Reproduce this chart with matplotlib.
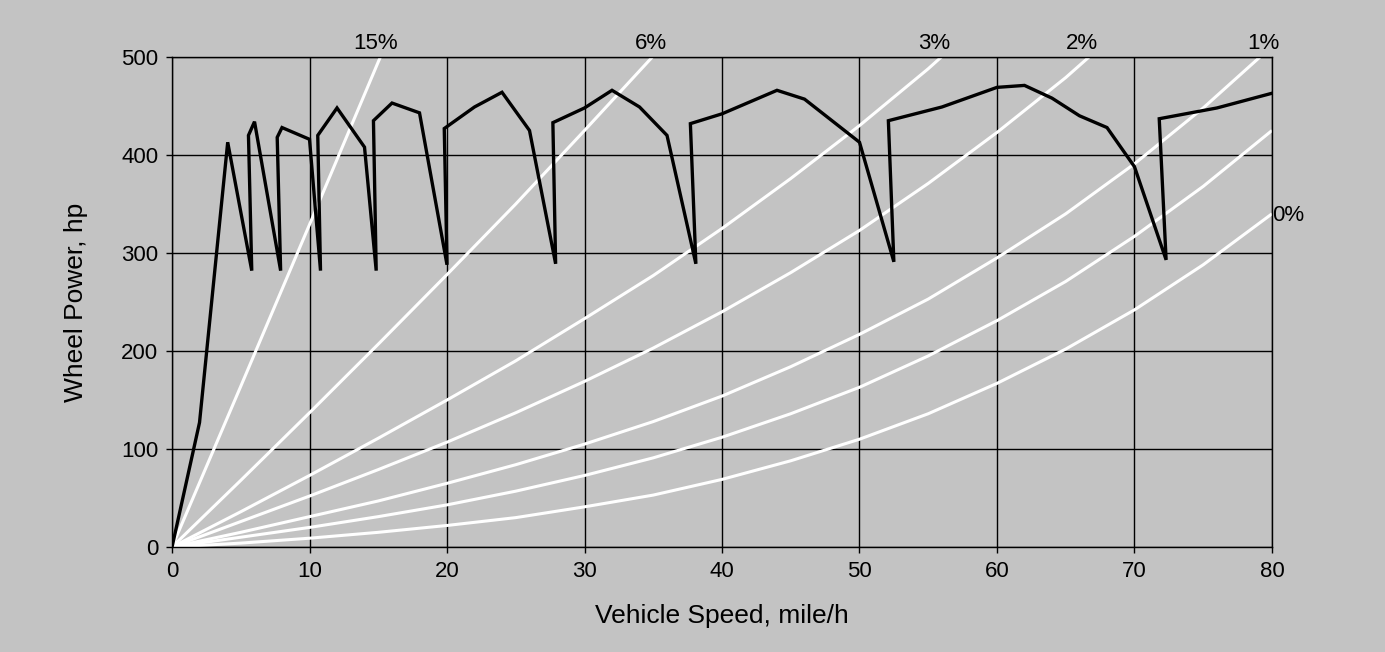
import matplotlib
matplotlib.use("Agg")
import matplotlib.pyplot as plt

# ---- Wheel power curve (black) ----
speed = [0, 2.0, 4.05, 5.8, 5.56, 6.0, 7.9, 7.65, 8.0, 10.0, 10.8, 10.6, 12.0, 14.0,
         14.85, 14.65, 16.0, 18.0, 20.0, 19.8, 22.0, 24.0, 26.0, 27.9, 27.7, 30.0,
         32.0, 34.0, 36.0, 38.1, 37.7, 40.0, 44.0, 46.0, 50.0, 52.5, 52.1, 56.0,
         60.0, 62.0, 64.0, 66.0, 68.0, 70.0, 72.3, 71.8, 76.0, 80.0]
power = [0, 127, 413, 282, 420, 434, 282, 418, 428, 416, 282, 420, 448, 408,
         282, 435, 453, 443, 288, 427, 449, 464, 425, 289, 433, 448,
         466, 449, 420, 289, 432, 442, 466, 457, 413, 291, 435, 449,
         469, 471, 458, 440, 428, 388, 293, 437, 448, 463]

# ---- Road-load power on grades (white) ----
grade_labels = ["0%", "0.5%", "1%", "2%", "3%", "6%", "15%"]
grade_speed = [
    [0, 5, 10, 15, 20, 25, 30, 35, 40, 45, 50, 55, 60, 65, 70, 75, 80],
    [0, 5, 10, 15, 20, 25, 30, 35, 40, 45, 50, 55, 60, 65, 70, 75, 80],
    [0, 5, 10, 15, 20, 25, 30, 35, 40, 45, 50, 55, 60, 65, 70, 75, 80],
    [0, 5, 10, 15, 20, 25, 30, 35, 40, 45, 50, 55, 60, 65, 70],
    [0, 5, 10, 15, 20, 25, 30, 35, 40, 45, 50, 55, 60],
    [0, 5, 10, 15, 20, 25, 30, 35],
    [0, 5, 10, 15, 16],
]
grade_power = [
    [0, 4, 9, 15, 22, 30, 41, 53, 69, 88, 110, 136, 167, 202, 242, 288, 340],
    [0, 10, 20, 31, 43, 57, 73, 91, 112, 136, 163, 195, 231, 271, 317, 368, 425],
    [0, 15, 31, 47, 65, 84, 105, 128, 154, 184, 217, 253, 295, 340, 391, 448, 511],
    [0, 26, 52, 79, 107, 137, 169, 203, 240, 280, 323, 371, 423, 479, 541],
    [0, 36, 73, 111, 150, 190, 233, 277, 325, 376, 430, 488, 551],
    [0, 68, 137, 207, 278, 350, 425, 501],
    [0, 164, 329, 495, 527],
]

# label positions for the grade lines (text shown on chart)
label_text = ["15%", "6%", "3%", "2%", "1%", "0%"]
label_x = [14.8, 34.8, 55.4, 66.2, 79.4, 80.0]
label_y = [503, 503, 503, 503, 503, 338]

xticks = [0, 10, 20, 30, 40, 50, 60, 70, 80]
yticks = [0, 100, 200, 300, 400, 500]

bg = "#c3c3c3"
plt.rcParams["font.family"] = ["Liberation Sans", "DejaVu Sans"]

fig = plt.figure(figsize=(13.85, 6.52), dpi=100, facecolor=bg)
ax = fig.add_axes([0.1242, 0.1610, 0.7942, 0.7516])
ax.set_facecolor(bg)

ax.set_xlim(0, 80)
ax.set_ylim(0, 500)
ax.set_xticks(xticks)
ax.set_yticks(yticks)
ax.grid(True, color="black", linewidth=1.0, zorder=1)
ax.set_axisbelow(True)

for xs, ys in zip(grade_speed, grade_power):
    ax.plot(xs, ys, color="white", linewidth=2.2, zorder=2, solid_capstyle="butt")

ax.plot(speed, power, color="black", linewidth=2.4, zorder=3, solid_joinstyle="miter")

for t, lx, ly in zip(label_text, label_x, label_y):
    ha = "left" if t == "0%" else "center"
    va = "center" if t == "0%" else "bottom"
    ax.text(lx, ly, t, fontsize=16, ha=ha, va=va,
            color="black", clip_on=False, zorder=4)

for s in ax.spines.values():
    s.set_color("black")
    s.set_linewidth(1.0)

ax.tick_params(axis="both", labelsize=16, length=4, width=1, color="black", pad=6)
ax.set_xlabel("Vehicle Speed, mile/h", fontsize=19, labelpad=16)
ax.set_ylabel("Wheel Power, hp", fontsize=19, labelpad=24)

fig.savefig("out.png", dpi=100, facecolor=bg)
